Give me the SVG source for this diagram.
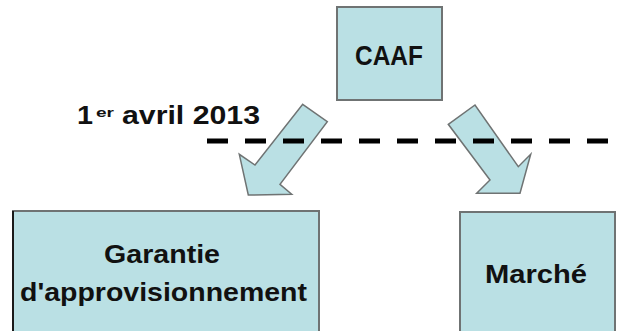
<svg xmlns="http://www.w3.org/2000/svg" width="621" height="331" viewBox="0 0 621 331">
  <style>
    .box { fill: #bae0e4; stroke: #6f7373; stroke-width: 2; }
    .arrow { fill: #bae0e4; stroke: #6f7373; stroke-width: 1.5; stroke-linejoin: miter; }
    .lbl { font-family: "Liberation Sans", Arial, sans-serif; font-weight: bold; fill: #111; }
    .dash { stroke: #000; stroke-width: 5; stroke-dasharray: 21 17; fill: none; }
  </style>
  <rect width="621" height="331" fill="#ffffff"/>

  <g id="arrows">
    <path class="arrow" d="M302.7,104.3 L327.3,121.7 L280,184.3 L291.7,194.3 L248.3,195 L239.3,154.3 L255,165 Z"/>
    <path class="arrow" d="M448.3,124.3 L475,105 L518.3,166.7 L530.7,154.3 L520,193.3 L476.7,193.3 L490,180 Z"/>
  </g>

  <g id="timeline">
    <line class="dash" x1="207" y1="141" x2="608" y2="141"/>
    <text class="lbl" y="124" font-size="26">
      <tspan x="77" textLength="16" lengthAdjust="spacingAndGlyphs">1</tspan><tspan x="96" y="117" font-size="13" textLength="18" lengthAdjust="spacingAndGlyphs">er</tspan><tspan x="122" y="124" textLength="138" lengthAdjust="spacingAndGlyphs">avril 2013</tspan>
    </text>
  </g>

  <g id="caaf">
    <rect class="box" x="337" y="7" width="105" height="93"/>
    <text class="lbl" x="355" y="65" font-size="27" textLength="68" lengthAdjust="spacingAndGlyphs">CAAF</text>
  </g>

  <g id="garantie">
    <rect class="box" x="13" y="211" width="306" height="130"/>
    <line x1="13" y1="211" x2="13" y2="331" stroke="#1a1a1a" stroke-width="2"/>
    <text class="lbl" x="104" y="263" font-size="25" textLength="116" lengthAdjust="spacingAndGlyphs">Garantie</text>
    <text class="lbl" x="20" y="301" font-size="25" textLength="287" lengthAdjust="spacingAndGlyphs">d'approvisionnement</text>
  </g>

  <g id="marche">
    <rect class="box" x="460" y="212" width="155" height="130"/>
    <text class="lbl" x="485" y="283" font-size="25" textLength="102" lengthAdjust="spacingAndGlyphs">Marché</text>
  </g>
</svg>
